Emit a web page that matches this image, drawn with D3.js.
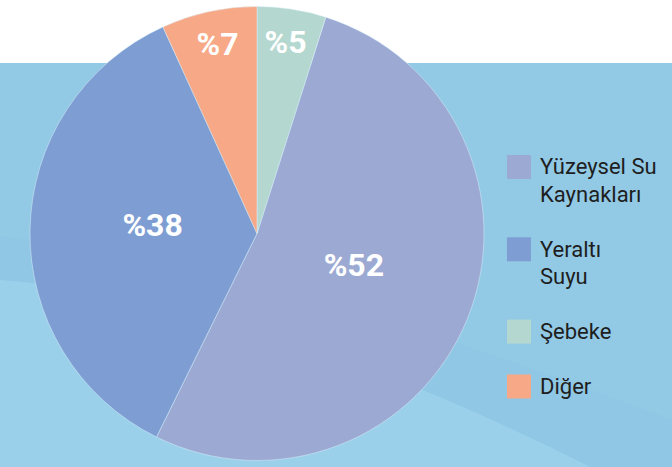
<!DOCTYPE html>
<html><head><meta charset="utf-8">
<script src="https://cdn.jsdelivr.net/npm/d3@7"></script>
<style>html,body{margin:0;padding:0;background:#fff;}svg{display:block;}</style>
</head><body>
<svg id="chart" width="672" height="467"></svg>
<script>
// Data (legend order)
const categories = ["Yüzeysel Su Kaynakları", "Yeraltı Suyu", "Şebeke", "Diğer"];
const legendLines = [["Yüzeysel Su", "Kaynakları"], ["Yeraltı", "Suyu"], ["Şebeke"], ["Diğer"]];
const values = [52.4, 35.9, 4.9, 6.8];        // slice sizes as drawn (%)
const valueLabels = ["%52", "%38", "%5", "%7"]; // printed labels
const drawOrder = ["Yüzeysel Su Kaynakları", "Yeraltı Suyu", "Diğer", "Şebeke"];
const colors = ["#9caad3", "#7e9ed3", "#b4d7cf", "#f7a886"];

const W = 672, H = 467;
const svg = d3.select("#chart");

// background
svg.append("rect").attr("x", 0).attr("y", 0).attr("width", W).attr("height", H).attr("fill", "#ffffff");
svg.append("rect").attr("x", 0).attr("y", 63).attr("width", W).attr("height", H - 63).attr("fill", "#92c9e5");
svg.append("path").attr("d", "M0,236 Q260,262 672,420 L672,467 L590,467 Q260,300 0,280 Z").attr("fill", "#8dc6e2").attr("opacity", 0.45);
svg.append("path").attr("d", "M0,280 Q260,300 590,467 L0,470 Z").attr("fill", "#9bd0eb");

// pie
const cx = 257, cy = 233.5, R = 227;
const color = d3.scaleOrdinal().domain(categories).range(colors);
const data = categories.map((c, i) => ({cat: c, value: values[i], label: valueLabels[i]}));
const pie = d3.pie().value(d => d.value)
  .sort((a, b) => drawOrder.indexOf(a.cat) - drawOrder.indexOf(b.cat))
  .startAngle(0).endAngle(2 * Math.PI);
const arcs = pie(data);
// rotate so that Şebeke starts at 12 o'clock
const seb = arcs.find(a => a.data.cat === "Şebeke");
const shift = 2 * Math.PI - seb.startAngle;
arcs.forEach(a => { a.startAngle += shift; a.endAngle += shift; });

const arc = d3.arc().innerRadius(0).outerRadius(R);
const pg = svg.append("g").attr("transform", `translate(${cx},${cy})`);
pg.selectAll("path.slice").data(arcs).join("path").attr("class", "slice")
  .attr("d", arc).attr("fill", d => color(d.data.cat))
  .attr("stroke", "rgba(220,240,250,0.6)").attr("stroke-width", 0.8);

pg.selectAll("text.val").data(arcs).join("text").attr("class", "val")
  .attr("transform", d => {
    const share = d.data.value / d3.sum(values);
    const r = share < 0.1 ? R * 0.82 : R * 0.46;
    const a = (d.startAngle + d.endAngle) / 2;
    return `translate(${r * Math.sin(a)},${-r * Math.cos(a)})`;
  })
  .attr("text-anchor", "middle").attr("dy", "0.12em")
  .attr("font-family", "Roboto, sans-serif").attr("font-weight", 700)
  .attr("font-size", 32).attr("fill", "#ffffff")
  .text(d => d.data.label);

// legend
const lineH = 27.4, gap = 27.5;
const offsets = [];
legendLines.reduce((acc, l) => { offsets.push(acc); return acc + l.length * lineH + gap; }, 0);
const lg = svg.append("g").attr("transform", "translate(507,155)");
const rows = lg.selectAll("g.row").data(categories).join("g").attr("class", "row")
  .attr("transform", (d, i) => `translate(0,${offsets[i]})`);
rows.append("rect").attr("width", 24).attr("height", 24).attr("fill", d => color(d));
rows.append("text").attr("x", 33).attr("y", 19.3)
  .attr("font-family", "Roboto, sans-serif").attr("font-size", 22).attr("fill", "#1e1e1e")
  .selectAll("tspan").data((d, i) => legendLines[i]).join("tspan")
  .attr("x", 33).attr("dy", (d, j) => j === 0 ? 0 : lineH).text(d => d);
</script>
</body></html>
